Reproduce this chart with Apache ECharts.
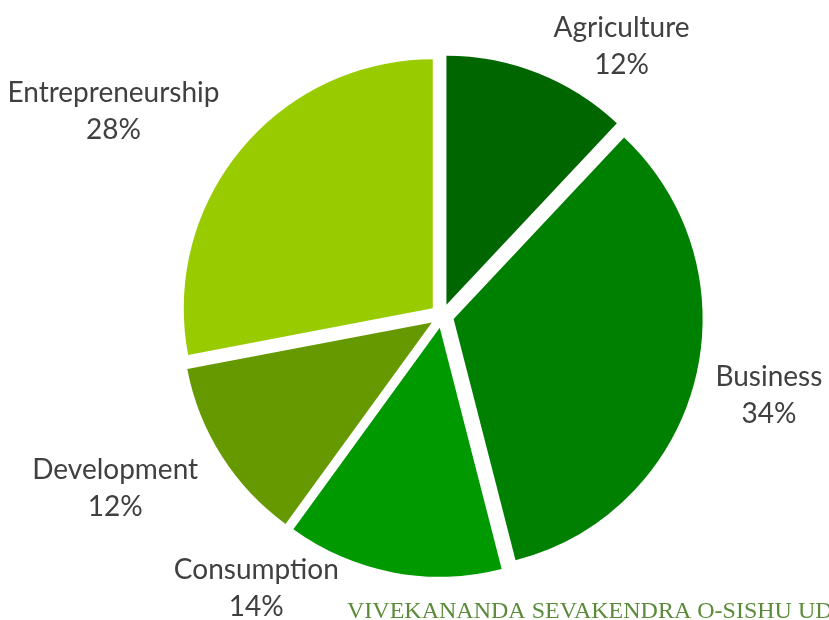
<!DOCTYPE html>
<html><head><meta charset="utf-8">
<script src="https://cdn.jsdelivr.net/npm/echarts@6/dist/echarts.min.js"></script>
<style>html,body{margin:0;padding:0;background:#fff}#c{width:829px;height:620px}</style>
</head><body><div id="c"></div>
<script>
const categories = ['Agriculture','Business','Consumption','Development','Entrepreneurship'];
const values = [12, 34, 14, 12, 28];
const colors = ['#006600','#008000','#009900','#669900','#99CC00'];
const watermark = 'VIVEKANANDA SEVAKENDRA O-SISHU UDYAN';

// layout
const CX = 442, CY = 316, R = 249, LABEL_R = 284;
// extra nudges where labels are pushed by the chart border
const labelNudge = [[50,29],[0,0],[-117,-43],[-17,0],[-28,0]];

const total = values.reduce((a,b)=>a+b,0);
const midAngles = [];
{ let acc = 0; values.forEach(v=>{ const mid = 90 - (acc + v/2)/total*360; midAngles.push(mid*Math.PI/180); acc += v; }); }

const chart = echarts.init(document.getElementById('c'), null, {renderer:'canvas'});
chart.setOption({
  animation:false,
  backgroundColor:'#fff',
  graphic:[{type:'text', left:347, top:600, style:{text:watermark, font:'24px "Liberation Serif", serif', fill:'#5b8b3a'}}],
  series:[{
    type:'pie',
    center:[CX,CY],
    radius:[0,R],
    startAngle:90,
    clockwise:true,
    selectedMode:'multiple',
    selectedOffset:12,
    label:{show:false},
    labelLine:{show:false},
    emphasis:{disabled:true},
    data: categories.map((c,i)=>({name:c, value:values[i], selected:true, itemStyle:{color:colors[i]}}))
  },{
    type:'pie',
    silent:true,
    center:[CX,CY],
    radius:[0,R],
    startAngle:90,
    clockwise:true,
    avoidLabelOverlap:false,
    itemStyle:{color:'rgba(0,0,0,0)'},
    label:{show:true, position:'outside', formatter:'{b}\n{d}%', fontFamily:'Lato, sans-serif', fontSize:28, lineHeight:37, color:'#404040'},
    labelLine:{show:false, length:30, length2:0},
    labelLayout:function(p){
      const i = p.dataIndex, r = p.labelRect, a = midAngles[i];
      const hw = r.width/2, hh = r.height/2;
      const c = Math.cos(a), s = Math.sin(a);
      const x = CX + (LABEL_R + hw)*c + labelNudge[i][0];
      const y = CY - (LABEL_R + hh)*s + labelNudge[i][1];
      return {x:x, y:y, align:'center', verticalAlign:'middle'};
    },
    emphasis:{disabled:true},
    data: categories.map((c,i)=>({name:c, value:values[i]}))
  }]
});
</script></body></html>
